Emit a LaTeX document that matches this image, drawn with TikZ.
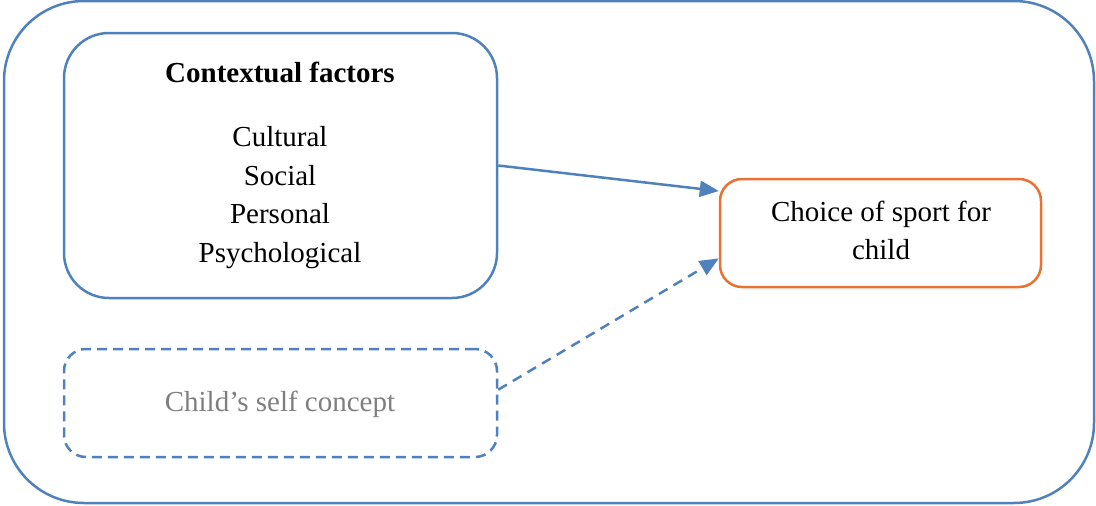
\documentclass[tikz,border=0pt]{standalone}
\usepackage{fontspec}
\setmainfont{Liberation Serif}
\usetikzlibrary{arrows.meta,calc}
\definecolor{dblue}{HTML}{4F81BD}
\definecolor{dorange}{HTML}{E97132}
\definecolor{tgray}{HTML}{7F7F7F}
\tikzset{
  box/.style={draw=dblue, line width=2.5pt, rectangle, inner sep=0pt},
  txt/.style={font=\fontsize{29}{35}\selectfont, inner sep=0pt, anchor=base},
  conn/.style={draw=dblue, line width=2.5pt, -{Triangle[length=19pt,width=16pt]}}
}
\begin{document}
\begin{tikzpicture}[x=1pt,y=-1pt]
\useasboundingbox (0,0) rectangle (1096,506);
\node[box, rounded corners=80pt, minimum width=1090pt, minimum height=502pt] (frame) at (549,252) {};
\node[box, rounded corners=45pt, minimum width=433pt, minimum height=265pt] (ctx) at (280.5,165.5) {};
\node[box, draw=dorange, rounded corners=22pt, minimum width=321pt, minimum height=108pt] (choice) at (880.5,233) {};
\node[box, dashed, dash pattern=on 10pt off 6pt, rounded corners=22pt, minimum width=433pt, minimum height=108pt] (self) at (280.5,403) {};
\node[txt, font=\fontsize{29}{35}\selectfont\bfseries] (title) at (280,82) {Contextual factors};
\node[txt] (cult) at (280,146) {Cultural};
\node[txt] (soc) at (280,185) {Social};
\node[txt] (pers) at (280,223) {Personal};
\node[txt] (psy) at (280,262) {Psychological};
\node[txt] (ch1) at (881,221) {Choice of sport for};
\node[txt] (ch2) at (881,259) {child};
\node[txt, text=tgray] (selft) at (280,411) {Child’s self concept};
\coordinate (a1) at ($(choice.north west)!0.12!(choice.south west)$);
\coordinate (a2) at ($(choice.north west)!0.73!(choice.south west)$);
\coordinate (s1) at ($(self.north east)!0.38!(self.south east)$);
\draw[conn] (ctx.east) -- (a1);
\draw[conn, dash pattern=on 10pt off 7pt] (s1) -- (a2);
\end{tikzpicture}
\end{document}
